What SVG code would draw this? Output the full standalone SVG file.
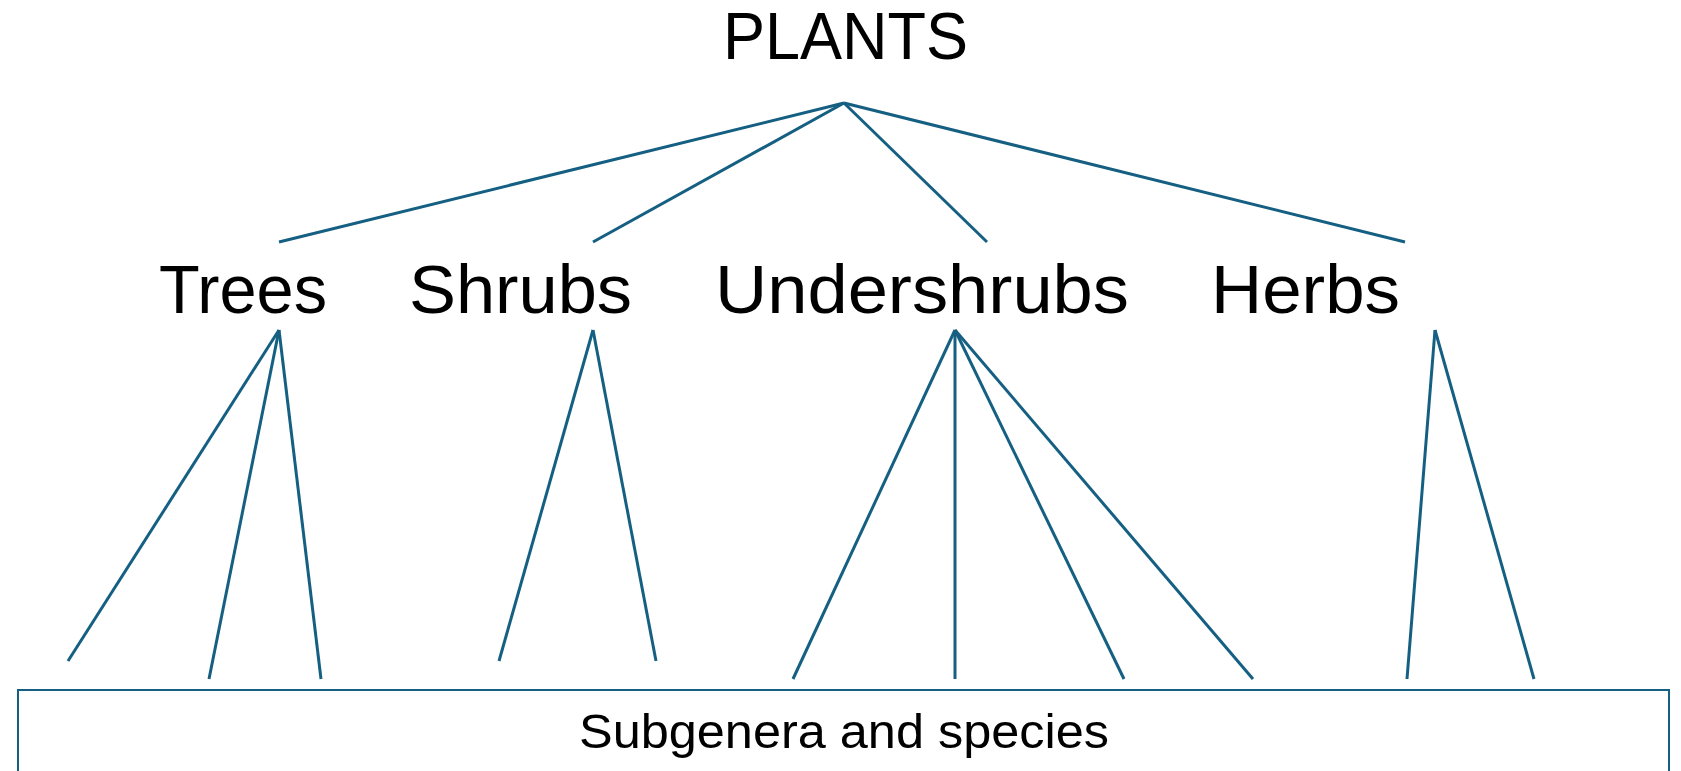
<svg xmlns="http://www.w3.org/2000/svg" width="1681" height="771" viewBox="0 0 1681 771">
<style>
.t{font-family:"Liberation Sans",Arial,sans-serif;fill:#000;text-anchor:start}
.c line{stroke:#156082;stroke-width:3;stroke-linecap:butt}
.box{fill:#fff;stroke:#156082;stroke-width:2}
</style>
<rect width="1681" height="771" fill="#fff"/>
<g id="node-plants"><text class="t" x="723" y="59" font-size="67" textLength="245" lengthAdjust="spacingAndGlyphs">PLANTS</text></g>
<g id="node-trees"><text class="t" x="159" y="313" font-size="68" textLength="168" lengthAdjust="spacingAndGlyphs">Trees</text></g>
<g id="node-shrubs"><text class="t" x="409" y="313" font-size="68" textLength="223" lengthAdjust="spacingAndGlyphs">Shrubs</text></g>
<g id="node-undershrubs"><text class="t" x="715" y="313" font-size="68" textLength="414" lengthAdjust="spacingAndGlyphs">Undershrubs</text></g>
<g id="node-herbs"><text class="t" x="1211" y="313" font-size="68" textLength="189" lengthAdjust="spacingAndGlyphs">Herbs</text></g>
<g id="node-species">
<rect class="box" x="18" y="690" width="1651" height="120"/>
<text class="t" x="579" y="748" font-size="48" textLength="530" lengthAdjust="spacingAndGlyphs">Subgenera and species</text>
</g>
<g id="connectors" class="c">
<line x1="844" y1="103" x2="279" y2="242"/>
<line x1="844" y1="103" x2="593" y2="242"/>
<line x1="844" y1="103" x2="987" y2="242"/>
<line x1="844" y1="103" x2="1405" y2="242"/>
<line x1="279" y1="330" x2="68" y2="661"/>
<line x1="279" y1="330" x2="209" y2="679"/>
<line x1="279" y1="330" x2="321" y2="679"/>
<line x1="593" y1="330" x2="499" y2="661"/>
<line x1="593" y1="330" x2="656" y2="661"/>
<line x1="955" y1="330" x2="793" y2="679"/>
<line x1="955" y1="330" x2="955" y2="679"/>
<line x1="955" y1="330" x2="1124" y2="679"/>
<line x1="955" y1="330" x2="1253" y2="679"/>
<line x1="1435" y1="330" x2="1407" y2="679"/>
<line x1="1435" y1="330" x2="1534" y2="679"/>
</g>
</svg>
